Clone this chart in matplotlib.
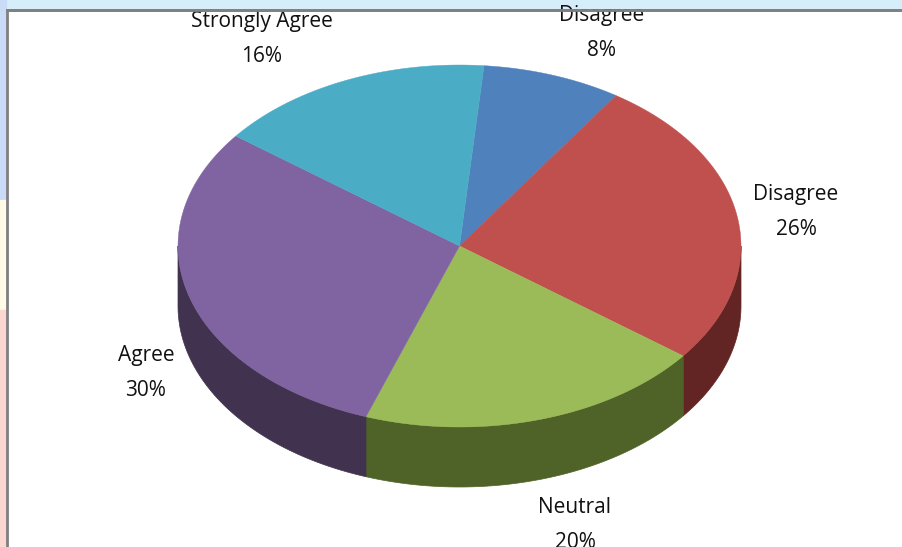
import numpy as np
import matplotlib
matplotlib.use("Agg")
import matplotlib.pyplot as plt
from matplotlib.patches import Polygon, Rectangle

# Data
labels = ["Disagree", "Disagree", "Neutral", "Agree", "Strongly Agree"]
shares = [8, 26, 20, 30, 16]
top_colors = ["#4F81BD", "#C0504D", "#9BBB59", "#8064A2", "#4BACC6"]
side_colors = ["#2C4D75", "#632523", "#4F6228", "#41334F", "#215968"]
label_xy = [(602, 33), (796, 212), (575, 525), (146, 373), (262, 39)]

# Pie geometry (pixel space)
cx, cy = 459.5, 246
rx, ry = 281.5, 181
depth = 60
start = 85.0

fig = plt.figure(figsize=(9.02, 5.47), dpi=100)
ax = fig.add_axes([0, 0, 1, 1])
ax.set_xlim(0, 902)
ax.set_ylim(547, 0)
ax.axis("off")

# slide background bits peeking around the chart frame
ax.add_patch(Rectangle((0, 0), 902, 10, color="#D6EEFA", zorder=0))
ax.add_patch(Rectangle((0, 0), 6, 200, color="#CADBF7", zorder=0))
ax.add_patch(Rectangle((0, 200), 6, 110, color="#FFFBE6", zorder=0))
ax.add_patch(Rectangle((0, 310), 6, 237, color="#FCD6D0", zorder=0))
ax.add_patch(Rectangle((6.5, 10), 902, 545, facecolor="white",
                       edgecolor="#808080", linewidth=2, zorder=1))


def pt(t, dz=0):
    r = np.radians(t)
    return cx + rx * np.cos(r), cy - ry * np.sin(r) + dz


angles = []
a = start
for s in shares:
    b = a - 360 * s / sum(shares)
    angles.append((a, b))
    a = b

# side walls (front half only)
for (a, b), col in zip(angles, side_colors):
    lo, hi = max(b, -180), min(a, 0)
    if lo >= hi:
        continue
    ts = np.linspace(hi, lo, 80)
    top = [pt(t) for t in ts]
    bot = [pt(t, depth) for t in ts[::-1]]
    ax.add_patch(Polygon(top + bot, closed=True, facecolor=col,
                         edgecolor=col, linewidth=0.5, zorder=2))

# top surface wedges
for (a, b), col in zip(angles, top_colors):
    ts = np.linspace(a, b, 120)
    verts = [(cx, cy)] + [pt(t) for t in ts]
    ax.add_patch(Polygon(verts, closed=True, facecolor=col,
                         edgecolor=col, linewidth=0.3, zorder=3))

for lab, s, (x, y) in zip(labels, shares, label_xy):
    ax.text(x, y, f"{lab}\n{s}%", ha="center", va="center", fontsize=15,
            family="Open Sans", color="#111111", linespacing=1.85, zorder=5)

# frame top line is drawn over the clipped label
ax.plot([6.5, 902], [10, 10], color="#808080", lw=2, zorder=6)

fig.savefig("out.png", dpi=100)
